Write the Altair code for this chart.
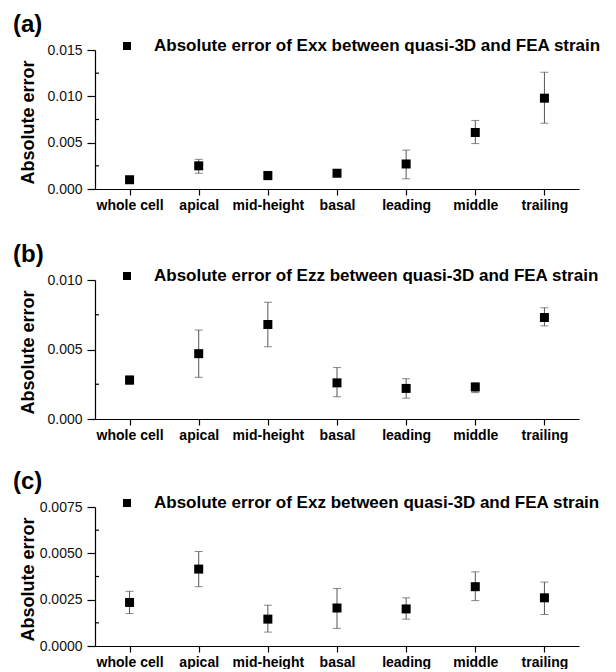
import altair as alt
import pandas as pd

categories = ["whole cell", "apical", "mid-height", "basal", "leading", "middle", "trailing"]

# (a) Exx
exx_val = [0.0010, 0.0025, 0.00145, 0.0017, 0.0027, 0.0061, 0.0098]
exx_lo = [0.0008, 0.0017, 0.0010, 0.0015, 0.0011, 0.0049, 0.0071]
exx_hi = [0.0012, 0.0032, 0.0019, 0.0019, 0.0042, 0.0074, 0.0126]

# (b) Ezz
ezz_val = [0.0028, 0.0047, 0.0068, 0.0026, 0.0022, 0.0023, 0.0073]
ezz_lo = [0.0025, 0.0030, 0.0052, 0.0016, 0.0015, 0.0019, 0.0067]
ezz_hi = [0.0031, 0.0064, 0.0084, 0.0037, 0.0029, 0.0026, 0.0080]

# (c) Exz
exz_val = [0.00235, 0.00415, 0.00145, 0.00205, 0.0020, 0.0032, 0.0026]
exz_lo = [0.00175, 0.0032, 0.00075, 0.00095, 0.00145, 0.00245, 0.0017]
exz_hi = [0.00295, 0.0051, 0.0022, 0.0031, 0.0026, 0.0040, 0.00345]

FONT = "Liberation Sans"
W, H = 484, 139


def panel(letter, label, vals, los, his, ymax, major, minor, fmt):
    df = pd.DataFrame({"cat": categories, "val": vals, "lo": los, "hi": his})
    xenc = alt.X(
        "cat:N", sort=categories,
        scale=alt.Scale(type="point", padding=0.5),
        axis=alt.Axis(title=None, labelAngle=0, labelFont=FONT, labelFontSize=14,
                      labelFontWeight="bold", labelColor="black", tickSize=6,
                      tickColor="black", tickWidth=1.2, domainColor="black",
                      domainWidth=1.2, labelPadding=3),
    )
    yscale = alt.Scale(domain=[0, ymax], nice=False, zero=True)
    yaxis = alt.Axis(
        title="Absolute error", values=major, format=fmt,
        labelFont=FONT, labelFontSize=14, labelColor="#111",
        tickSize=8, tickColor="black", tickWidth=1.2,
        domainColor="black", domainWidth=1.2, labelPadding=5,
        titleFont=FONT, titleFontSize=18, titleFontWeight="bold", titleColor="black",
        titleAngle=270, titleX=-62, titleY=72, titleAlign="center",
        titleBaseline="alphabetic",
    )
    base = alt.Chart(df)
    err = base.mark_rule(color="#555555", strokeWidth=1).encode(
        x=xenc, y=alt.Y("lo:Q", scale=yscale, axis=yaxis), y2="hi:Q")
    cap_lo = base.mark_tick(color="#555555", size=8, thickness=1).encode(
        x=xenc, y=alt.Y("lo:Q", scale=yscale))
    cap_hi = base.mark_tick(color="#555555", size=8, thickness=1).encode(
        x=xenc, y=alt.Y("hi:Q", scale=yscale))
    pts = base.mark_square(size=81, color="black", opacity=1).encode(
        x=xenc, y=alt.Y("val:Q", scale=yscale))
    minor_ticks = alt.Chart(pd.DataFrame({"m": minor})).mark_rule(
        color="black", strokeWidth=1.2).encode(
        y=alt.Y("m:Q", scale=yscale), x=alt.value(0), x2=alt.value(4))
    leg_sq = alt.Chart(pd.DataFrame({"t": [label]})).mark_square(
        size=64, color="black", opacity=1).encode(x=alt.value(32), y=alt.value(-4))
    leg_txt = alt.Chart(pd.DataFrame({"t": [label]})).mark_text(
        align="left", baseline="middle", font=FONT, fontSize=17,
        fontWeight="bold", color="black").encode(
        x=alt.value(59), y=alt.value(-4), text="t:N")
    let_txt = alt.Chart(pd.DataFrame({"t": [letter]})).mark_text(
        align="left", baseline="alphabetic", font=FONT, fontSize=24,
        fontWeight="bold", color="black").encode(
        x=alt.value(-82), y=alt.value(-18), text="t:N")
    return alt.layer(err, cap_lo, cap_hi, pts, minor_ticks, leg_sq, leg_txt, let_txt
                     ).properties(width=W, height=H)


pa = panel("(a)", "Absolute error of Exx between quasi-3D and FEA strain",
           exx_val, exx_lo, exx_hi, 0.015,
           [0, 0.005, 0.010, 0.015], [0.0025, 0.0075, 0.0125], ".3f")
pb = panel("(b)", "Absolute error of Ezz between quasi-3D and FEA strain",
           ezz_val, ezz_lo, ezz_hi, 0.010,
           [0, 0.005, 0.010], [0.0025, 0.0075], ".3f")
pc = panel("(c)", "Absolute error of Exz between quasi-3D and FEA strain",
           exz_val, exz_lo, exz_hi, 0.0075,
           [0, 0.0025, 0.005, 0.0075], [0.00125, 0.00375, 0.00625], ".4f")

chart = alt.vconcat(
    pa,
    alt.vconcat(pb, pc, spacing=88, bounds="flush"),
    spacing=91, bounds="flush",
).properties(
    padding={"top": 5, "left": 5, "right": 5, "bottom": 0}
).configure_view(stroke=None).configure_axis(grid=False)

chart.save("out.html", embed_options={"renderer": "svg", "actions": False})
